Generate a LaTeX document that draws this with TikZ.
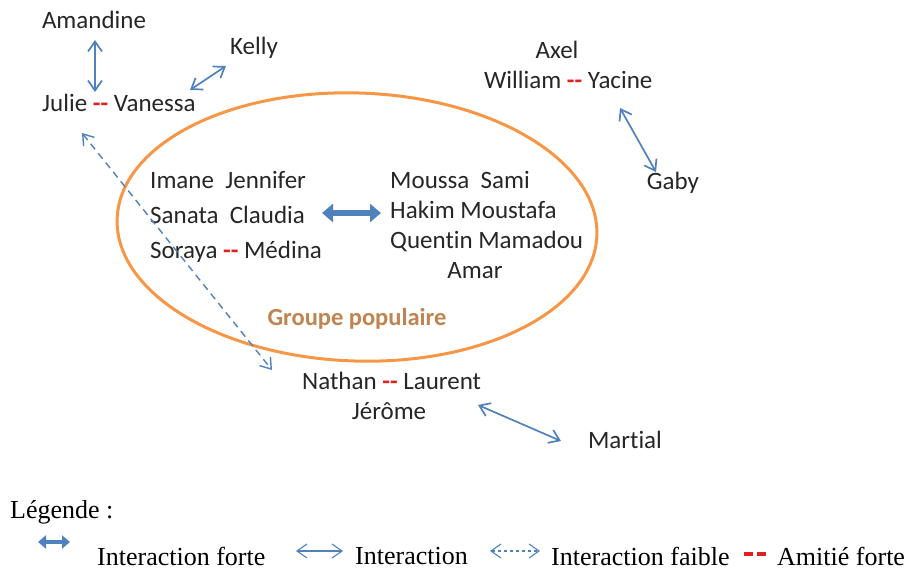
\documentclass[tikz,border=0pt]{standalone}
\usepackage{fontspec}
\setmainfont{Carlito}[Ligatures={TeX,NoCommon}]
\newfontfamily\legfont{Liberation Serif}
\usetikzlibrary{arrows.meta}
\definecolor{ablue}{HTML}{4F81BD}
\definecolor{aorange}{HTML}{F79646}
\definecolor{gtext}{HTML}{C08451}
\definecolor{ared}{HTML}{E02020}
\newcommand{\rdash}{\textcolor{ared}{\textbf{-{}-}}}
\tikzset{
  nm/.style={font=\fontsize{25}{30}\selectfont, inner sep=0pt, text=black!85},
  leg/.style={font=\legfont\fontsize{26}{30}\selectfont, inner sep=0pt, anchor=west},
  inter/.style={draw=ablue, line width=1.7pt, {Straight Barb[length=10pt,width=14pt]}-{Straight Barb[length=10pt,width=14pt]}},
  faible/.style={inter, dash pattern=on 7pt off 5pt, line width=1.4pt},
  forte/.style={draw=ablue, line width=6pt, {Triangle[length=11pt,width=18pt]}-{Triangle[length=11pt,width=18pt]}},
}
\begin{document}
\begin{tikzpicture}[x=1pt,y=-1pt]
\useasboundingbox (0,0) rectangle (909,571);
% ellipse
\draw[aorange, line width=3pt, rotate around={-2:(357,227)}] (357,227) ellipse [x radius=240, y radius=134];
% names
\node[nm] (amandine) at (94,20) {Amandine};
\node[nm] (kelly) at (254,48) {Kelly};
\node[nm, anchor=west] (julie) at (42,103) {Julie \rdash{} Vanessa};
\node[nm] (axel) at (557,50) {Axel};
\node[nm, anchor=west] (william) at (484,80) {William \rdash{} Yacine};
\node[nm] (gaby) at (673,183) {Gaby};
\node[nm, anchor=west] (g1) at (150,180) {Imane\ \ Jennifer};
\node[nm, anchor=west] (g2) at (150,215) {Sanata\ \ Claudia};
\node[nm, anchor=west] (g3) at (150,252) {Soraya \rdash{} Médina};
\node[nm, anchor=west] (h1) at (390,180) {Moussa\ \ Sami};
\node[nm, anchor=west] (h2) at (390,210) {Hakim Moustafa};
\node[nm, anchor=west] (h3) at (390,241) {Quentin Mamadou};
\node[nm] (h4) at (475,271) {Amar};
\node[font=\bfseries\fontsize{24.5}{28}\selectfont, text=gtext, inner sep=0pt] (grp) at (357,319) {Groupe populaire};
\node[nm, anchor=west] (nathan) at (302,381) {Nathan \rdash{} Laurent};
\node[nm] (jerome) at (389,411) {Jérôme};
\node[nm] (martial) at (625,440) {Martial};
% coordinates for arrow ends
\coordinate (a1) at (95,40);
\coordinate (a2) at (95,92);
\coordinate (k1) at (190,90);
\coordinate (k2) at (226,66);
\coordinate (y1) at (620,108);
\coordinate (y2) at (656,172);
\coordinate (f1) at (322,213);
\coordinate (f2) at (381,213);
\coordinate (d1) at (82,133);
\coordinate (d2) at (272,370);
\coordinate (m1) at (478,405);
\coordinate (m2) at (561,441);
\draw[inter] (a1) -- (a2);
\draw[inter] (k1) -- (k2);
\draw[inter] (y1) -- (y2);
\draw[inter] (m1) -- (m2);
\draw[forte] (f1) -- (f2);
\draw[faible] (d1) -- (d2);
% legend
\node[leg] (legende) at (10,512) {Légende :};
\coordinate (l1a) at (38,542);
\coordinate (l1b) at (70,542);
\draw[draw=ablue, line width=4.5pt, {Triangle[length=8pt,width=13pt]}-{Triangle[length=8pt,width=13pt]}] (l1a) -- (l1b);
\node[leg] (lforte) at (97,556) {Interaction forte};
\coordinate (l2a) at (296,551);
\coordinate (l2b) at (343,551);
\draw[inter, line width=1.1pt] (l2a) -- (l2b);
\node[leg] (linter) at (355,556) {Interaction};
\coordinate (l3a) at (490,551);
\coordinate (l3b) at (540,551);
\draw[faible, line width=1.1pt, dash pattern=on 3pt off 3pt] (l3a) -- (l3b);
\node[leg] (lfaible) at (551,556) {Interaction faible};
\coordinate (ld1) at (744,554);
\coordinate (ld2) at (766,554);
\draw[ared, line width=3.5pt, dash pattern=on 9pt off 4pt] (ld1) -- (ld2);
\node[leg] (lamitie) at (777,556) {Amitié forte};
\end{tikzpicture}
\end{document}
